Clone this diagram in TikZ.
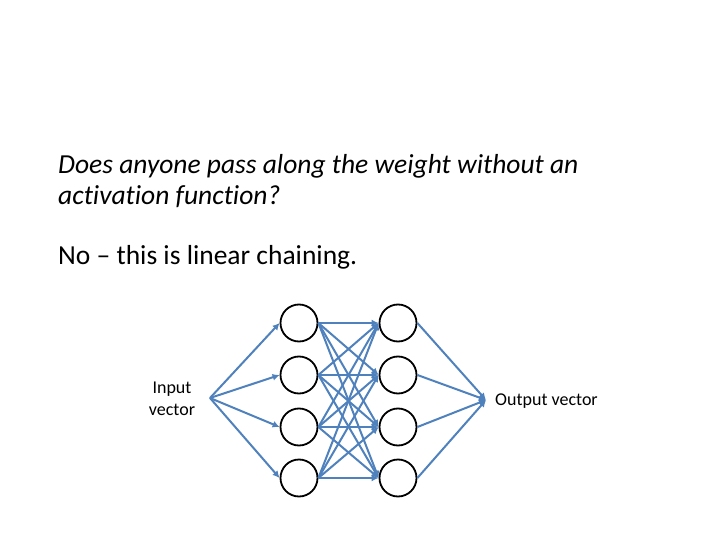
\documentclass[tikz,border=0pt]{standalone}
\usepackage{fontspec}
\setmainfont{Carlito}[Ligatures={TeX,NoCommon}]
\usetikzlibrary{arrows.meta}
\definecolor{linkblue}{RGB}{79,129,189}
\tikzset{
    neuron/.style={draw=black, circle, line width=1.8pt, minimum size=37pt, inner sep=0pt},
    link/.style={draw=linkblue, line width=2pt, -{Latex[length=7pt,width=7pt]}},
    smalltext/.style={font=\fontsize{18}{22}\selectfont, inner sep=0pt}
}
\begin{document}
\begin{tikzpicture}[x=1pt, y=-1pt]
    \useasboundingbox (0,0) rectangle (720,540);
    %   Question and answer
    \node[anchor=base west, align=left, inner sep=0pt, font=\fontsize{27.5}{32}\selectfont\itshape] (question) at (58,205)
        {Does anyone pass along the weight without an\\activation function?};
    \node[anchor=base west, inner sep=0pt, font=\fontsize{27.5}{32}\selectfont] (answer) at (58,264)
        {No – this is linear chaining.};
    %   Two layers of 4 neurons
    \foreach \i/\y in {1/323, 2/375, 3/427, 4/478} {
        \node[neuron] (a\i) at (299,\y) {};
        \node[neuron] (b\i) at (398,\y) {};
    }
    \coordinate (inp) at (210,398);
    \coordinate (outp) at (486,400);
    \node[smalltext, align=center] (inlabel) at (172,399) {Input\\vector};
    \node[smalltext, anchor=west] (outlabel) at (495,401) {Output vector};
    %   Connections
    \foreach \i in {1,...,4} {
        \draw[link] (inp) -- (a\i.west);
        \draw[link] (b\i.east) -- (outp);
        \foreach \j in {1,...,4}
            \draw[link] (a\i.east) -- (b\j.west);
    }
\end{tikzpicture}
\end{document}
